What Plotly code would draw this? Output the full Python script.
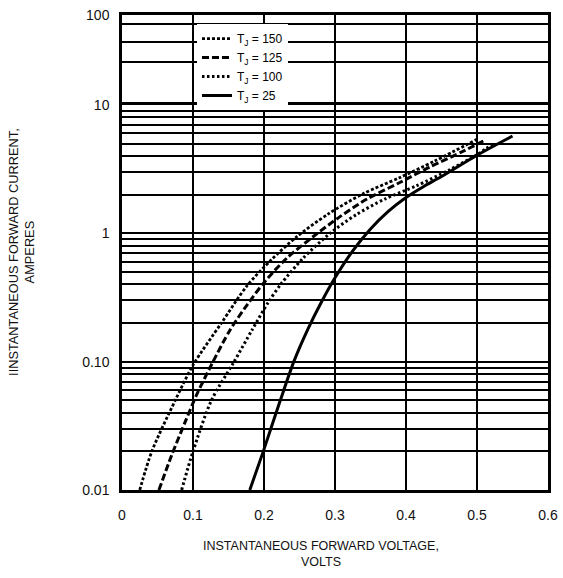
import plotly.graph_objects as go

# ---- data ----
v150 = [0.025, 0.042, 0.075, 0.10, 0.14, 0.176, 0.21, 0.246, 0.29, 0.34, 0.39, 0.44, 0.50]
i150 = [0.01, 0.02, 0.05, 0.094, 0.20, 0.39, 0.62, 0.94, 1.41, 2.04, 2.7, 3.65, 5.4]

v125 = [0.052, 0.07, 0.09, 0.105, 0.127, 0.152, 0.176, 0.201, 0.232, 0.269, 0.307, 0.345, 0.392, 0.434, 0.48, 0.512]
i125 = [0.01, 0.0187, 0.035, 0.055, 0.097, 0.176, 0.276, 0.42, 0.64, 0.94, 1.35, 1.85, 2.5, 3.3, 4.35, 5.35]

v100 = [0.084, 0.10, 0.126, 0.157, 0.183, 0.206, 0.225, 0.255, 0.293, 0.33, 0.37, 0.415, 0.46, 0.50, 0.525]
i100 = [0.01, 0.02, 0.05, 0.098, 0.176, 0.29, 0.41, 0.64, 1.0, 1.4, 1.85, 2.35, 3.1, 4.1, 5.1]

v25 = [0.18, 0.199, 0.223, 0.242, 0.262, 0.28, 0.30, 0.325, 0.35, 0.375, 0.40, 0.425, 0.45, 0.50, 0.55]
i25 = [0.01, 0.02, 0.05, 0.10, 0.18, 0.285, 0.45, 0.73, 1.08, 1.48, 1.90, 2.32, 2.77, 4.06, 5.73]

series_names = ["T<sub>J</sub> = 150", "T<sub>J</sub> = 125", "T<sub>J</sub> = 100", "T<sub>J</sub> = 25"]

x_ticks = [0, 0.1, 0.2, 0.3, 0.4, 0.5, 0.6]
x_ticktext = ["0", "0.1", "0.2", "0.3", "0.4", "0.5", "0.6"]

y_major = [0.01, 0.1, 1, 10]
y_major_text = ["0.01", "0.10", "1", "10"]
y_top_ticks = [30, 50, 80, 100]
y_top_text = ["", "", "", "100"]

# minor grid values 2..9 per decade (main panel)
y_minor = []
for dec in [0.01, 0.1, 1]:
    for m in range(2, 10):
        y_minor.append(round(m * dec, 4))
y_main_vals = y_major + y_minor
y_main_text = y_major_text + [""] * len(y_minor)

FONT = "Liberation Sans, Arial, Helvetica, sans-serif"
NARROW = "Liberation Sans Narrow, Liberation Sans, Arial, sans-serif"

fig = go.Figure()
styles = [
    dict(dash="3px,2px", width=2.8),
    dict(dash="7px,3px", width=3),
    dict(dash="2.5px,2.5px", width=3),
    dict(dash="solid", width=3),
]
for (vx, iy), name, st in zip([(v150, i150), (v125, i125), (v100, i100), (v25, i25)], series_names, styles):
    fig.add_trace(go.Scatter(x=vx, y=iy, mode="lines", name=name,
                             line=dict(color="black", width=st["width"], dash=st["dash"], shape="spline", smoothing=0.8)))

# empty trace so the upper panel is drawn
fig.add_trace(go.Scatter(x=[], y=[], xaxis="x2", yaxis="y2", showlegend=False, hoverinfo="skip"))

split = 385 / 475.0
common = dict(showgrid=True, gridcolor="black", gridwidth=2, zeroline=False, ticks="", automargin=False,
              linecolor="black", linewidth=2.5)

fig.update_layout(
    width=563, height=578,
    margin=dict(l=122, r=15, t=15, b=88, autoexpand=False),
    paper_bgcolor="white", plot_bgcolor="white",
    font=dict(family=FONT, color="black"),
    xaxis=dict(range=[0, 0.6], tickvals=x_ticks, ticktext=x_ticktext, domain=[0, 1], anchor="y",
               showline=True, mirror=True,
               tickfont=dict(size=14, family=FONT, color="#111"), ticklabelstandoff=10, **common),
    yaxis=dict(type="log", range=[-2, 1], domain=[0, split], anchor="x",
               tickvals=y_main_vals, ticktext=y_main_text, showline=True, mirror=True,
               tickfont=dict(size=14, family=FONT, color="#111"), ticklabelstandoff=7, **common),
    xaxis2=dict(range=[0, 0.6], tickvals=x_ticks, showticklabels=False, anchor="y2", matches="x",
                side="top", showline=True, mirror=False, **common),
    yaxis2=dict(type="log", range=[1, 2], domain=[split, 1], anchor="x2",
                tickvals=y_top_ticks, ticktext=y_top_text, showline=True, mirror=True,
                tickfont=dict(size=14, family=FONT, color="#111"), ticklabelstandoff=7, **common),
    legend=dict(x=0.176, y=0.981, xanchor="left", yanchor="top", bgcolor="white", borderwidth=0,
                font=dict(size=12, family=NARROW, color="black"), tracegroupgap=0),
    showlegend=True,
    annotations=[
        dict(text="INSTANTANEOUS FORWARD VOLTAGE,<br>VOLTS", xref="paper", yref="paper",
             x=0.467, y=-0.135, xanchor="center", yanchor="middle", showarrow=False,
             font=dict(size=12.5, family=FONT, color="#111")),
        dict(text="IINSTANTANEOUS FORWARD CURRENT,<br>AMPERES", xref="paper", yref="paper",
             x=-0.235, y=0.501, xanchor="center", yanchor="middle", showarrow=False, textangle=-90,
             font=dict(size=12.8, family=FONT, color="#111")),
    ],
)

fig.write_html("out.html", config={"displayModeBar": False},
               post_script="document.body.style.margin='0';document.body.style.overflow='hidden';")
